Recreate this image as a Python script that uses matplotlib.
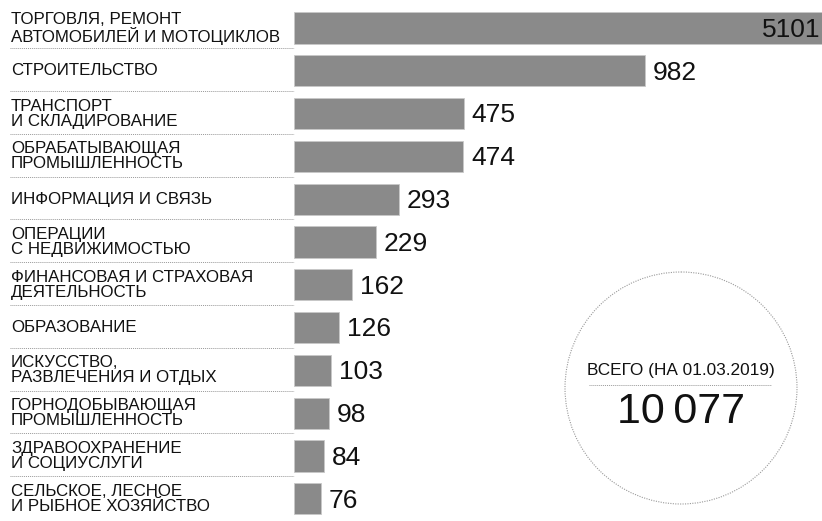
import matplotlib.pyplot as plt
from matplotlib.patches import Circle
import matplotlib.transforms as mtransforms

plt.rcParams['font.family'] = ['Liberation Sans', 'DejaVu Sans']

categories = [
    "ТОРГОВЛЯ, РЕМОНТ\nАВТОМОБИЛЕЙ И МОТОЦИКЛОВ",
    "СТРОИТЕЛЬСТВО",
    "ТРАНСПОРТ\nИ СКЛАДИРОВАНИЕ",
    "ОБРАБАТЫВАЮЩАЯ\nПРОМЫШЛЕННОСТЬ",
    "ИНФОРМАЦИЯ И СВЯЗЬ",
    "ОПЕРАЦИИ\nС НЕДВИЖИМОСТЬЮ",
    "ФИНАНСОВАЯ И СТРАХОВАЯ\nДЕЯТЕЛЬНОСТЬ",
    "ОБРАЗОВАНИЕ",
    "ИСКУССТВО,\nРАЗВЛЕЧЕНИЯ И ОТДЫХ",
    "ГОРНОДОБЫВАЮЩАЯ\nПРОМЫШЛЕННОСТЬ",
    "ЗДРАВООХРАНЕНИЕ\nИ СОЦИУСЛУГИ",
    "СЕЛЬСКОЕ, ЛЕСНОЕ\nИ РЫБНОЕ ХОЗЯЙСТВО",
]
values = [5101, 982, 475, 474, 293, 229, 162, 126, 103, 98, 84, 76]
total_label = "ВСЕГО (НА 01.03.2019)"
total_value = "10\u2009077"

W, H = 822, 521
fig = plt.figure(figsize=(W / 100, H / 100), dpi=100)

# bar axes: rows spaced ~42.8 px, first row centre at y=28 px
left_px = 294
pitch = 42.8
top_px = 28 - pitch / 2
bot_px = top_px + pitch * len(values)
ax = fig.add_axes([left_px / W, 1 - bot_px / H, 1 - left_px / W, (bot_px - top_px) / H])
y = range(len(values))
ax.barh(y, values, height=0.73, color='#8a8a8a', edgecolor='#c8c8c8', linewidth=0.6)
ax.set_xlim(0, 1477)
ax.set_ylim(len(values) - 0.5, -0.5)
ax.axis('off')

trans = mtransforms.blended_transform_factory(fig.transFigure, ax.transData)
for i, (cat, v) in enumerate(zip(categories, values)):
    ax.text(11 / W, i, cat, transform=trans, ha='left', va='center',
            fontsize=12.2, linespacing=1.0, color='#111111')
    if i < len(values) - 1:
        ax.plot([10 / W, 294 / W], [i + 0.47, i + 0.47], transform=trans,
                color='#999999', lw=0.7, ls=(0, (1, 1)), clip_on=False)
    if v > 1477:
        ax.text(1472, i + 0.04, str(v), ha='right', va='center', fontsize=19, color='#111111')
    else:
        ax.text(v + 22, i + 0.04, str(v), ha='left', va='center', fontsize=19, color='#111111')

# overlay in pixel coordinates for the total circle
ov = fig.add_axes([0, 0, 1, 1])
ov.set_xlim(0, W)
ov.set_ylim(H, 0)
ov.axis('off')
ov.add_patch(Circle((681, 388), 116, fill=False, edgecolor='#999999', lw=0.8, ls=(0, (1, 1.2))))
ov.text(681, 370, total_label, ha='center', va='center', fontsize=12.4, color='#111111')
ov.plot([589, 771], [385, 385], color='#999999', lw=0.7, ls=(0, (1, 1)))
ov.text(681, 412, total_value, ha='center', va='center', fontsize=31, color='#111111')

fig.savefig('out.png', dpi=100)
